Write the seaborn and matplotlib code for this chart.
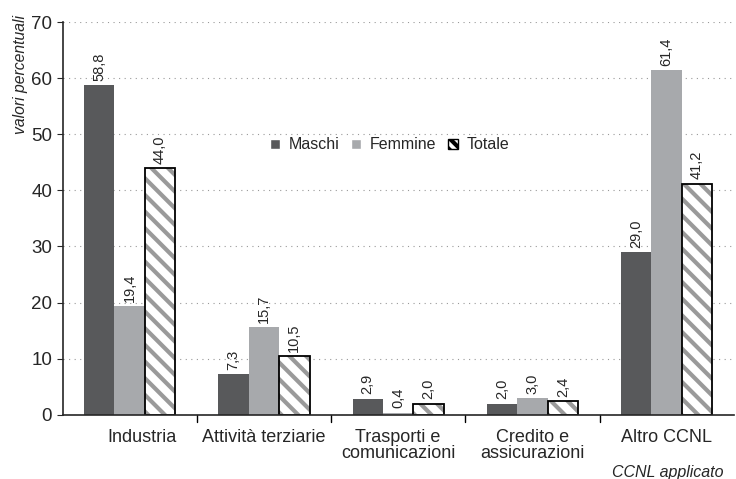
import pandas as pd
import numpy as np
import matplotlib
matplotlib.use("Agg")
import matplotlib.pyplot as plt
import matplotlib.transforms as mtrans
import seaborn as sns
from matplotlib.patches import Patch, Rectangle

# data
categorie = ["Industria", "Attività terziarie", "Trasporti e\ncomunicazioni",
             "Credito e\nassicurazioni", "Altro CCNL"]
maschi = [58.8, 7.3, 2.9, 2.0, 29.0]
femmine = [19.4, 15.7, 0.4, 3.0, 61.4]
totale = [44.0, 10.5, 2.0, 2.4, 41.2]
serie = ["Maschi", "Femmine", "Totale"]

df = pd.DataFrame({
    "categoria": categorie * 3,
    "serie": np.repeat(serie, len(categorie)),
    "valore": maschi + femmine + totale,
})

sns.set_style("ticks")
plt.rcParams["font.family"] = ["Liberation Sans", "DejaVu Sans"]
plt.rcParams["hatch.linewidth"] = 3.0

fig = plt.figure(figsize=(7.36, 4.79), dpi=100)
ax = fig.add_axes([0.085, 0.134, 0.912, 0.82])

colori = {"Maschi": "#58595b", "Femmine": "#a7a9ac", "Totale": "white"}
sns.barplot(data=df, x="categoria", y="valore", hue="serie", hue_order=serie,
            palette=colori, width=0.68, saturation=1, ax=ax, legend=False)

# hatched bars for Totale: grey stripes, black outline drawn on top
grigio = "#9a9a9a"
for p in ax.containers[2]:
    p.set_hatch("\\\\")
    p.set_edgecolor(grigio)
    p.set_linewidth(0)
    ax.add_patch(Rectangle((p.get_x(), p.get_y()), p.get_width(), p.get_height(),
                           fill=False, edgecolor="black", lw=1.3, zorder=p.get_zorder() + 0.1))
for cont in ax.containers[:2]:
    for p in cont:
        p.set_linewidth(0)

# value labels
for cont in ax.containers:
    labels = [f"{b.get_height():.1f}".replace(".", ",") for b in cont]
    ax.bar_label(cont, labels=labels, rotation=90, padding=3, fontsize=10.5)

ax.set_ylim(0, 70)
ax.set_xlim(-0.5, 4.5)
ax.set_yticks(range(0, 71, 10))
ax.tick_params(axis="y", labelsize=13.5, length=4)
ax.set_xticks(np.arange(len(categorie)))
ax.set_xticklabels(categorie, fontsize=13, linespacing=0.95)
ax.tick_params(axis="x", length=0, pad=10)
# the first label sits a little to the right in the original
lab0 = ax.get_xticklabels()[0]
lab0.set_transform(lab0.get_transform() + mtrans.ScaledTranslation(0.12, 0, fig.dpi_scale_trans))
# separators between groups on x axis
for xb in np.arange(0.5, 4.5, 1):
    ax.plot([xb, xb], [0, -1.2], color="black", lw=1, clip_on=False)

ax.yaxis.grid(True, linestyle=(0, (1, 4)), color="#999999", lw=0.8)
ax.set_axisbelow(True)
sns.despine(ax=ax)
for s in ["left", "bottom"]:
    ax.spines[s].set_linewidth(1.2)

ax.set_xlabel("")
ax.set_ylabel("")
fig.text(0.017, 0.969, "valori percentuali", rotation=90, style="italic",
         fontsize=11.3, ha="left", va="top")
fig.text(0.983, 0.013, "CCNL applicato", style="italic", fontsize=11.5,
         ha="right", va="center")

# legend
handles = [Patch(facecolor=colori["Maschi"]),
           Patch(facecolor=colori["Femmine"]),
           Patch(facecolor="white", edgecolor="black", hatch="\\\\\\")]
ax.legend(handles, serie, loc="center", bbox_to_anchor=(0.487, 0.687),
          ncol=3, frameon=False, fontsize=11.5, handlelength=0.65,
          handleheight=0.65, handletextpad=0.5, columnspacing=0.75)

fig.savefig("out.png", dpi=100)
